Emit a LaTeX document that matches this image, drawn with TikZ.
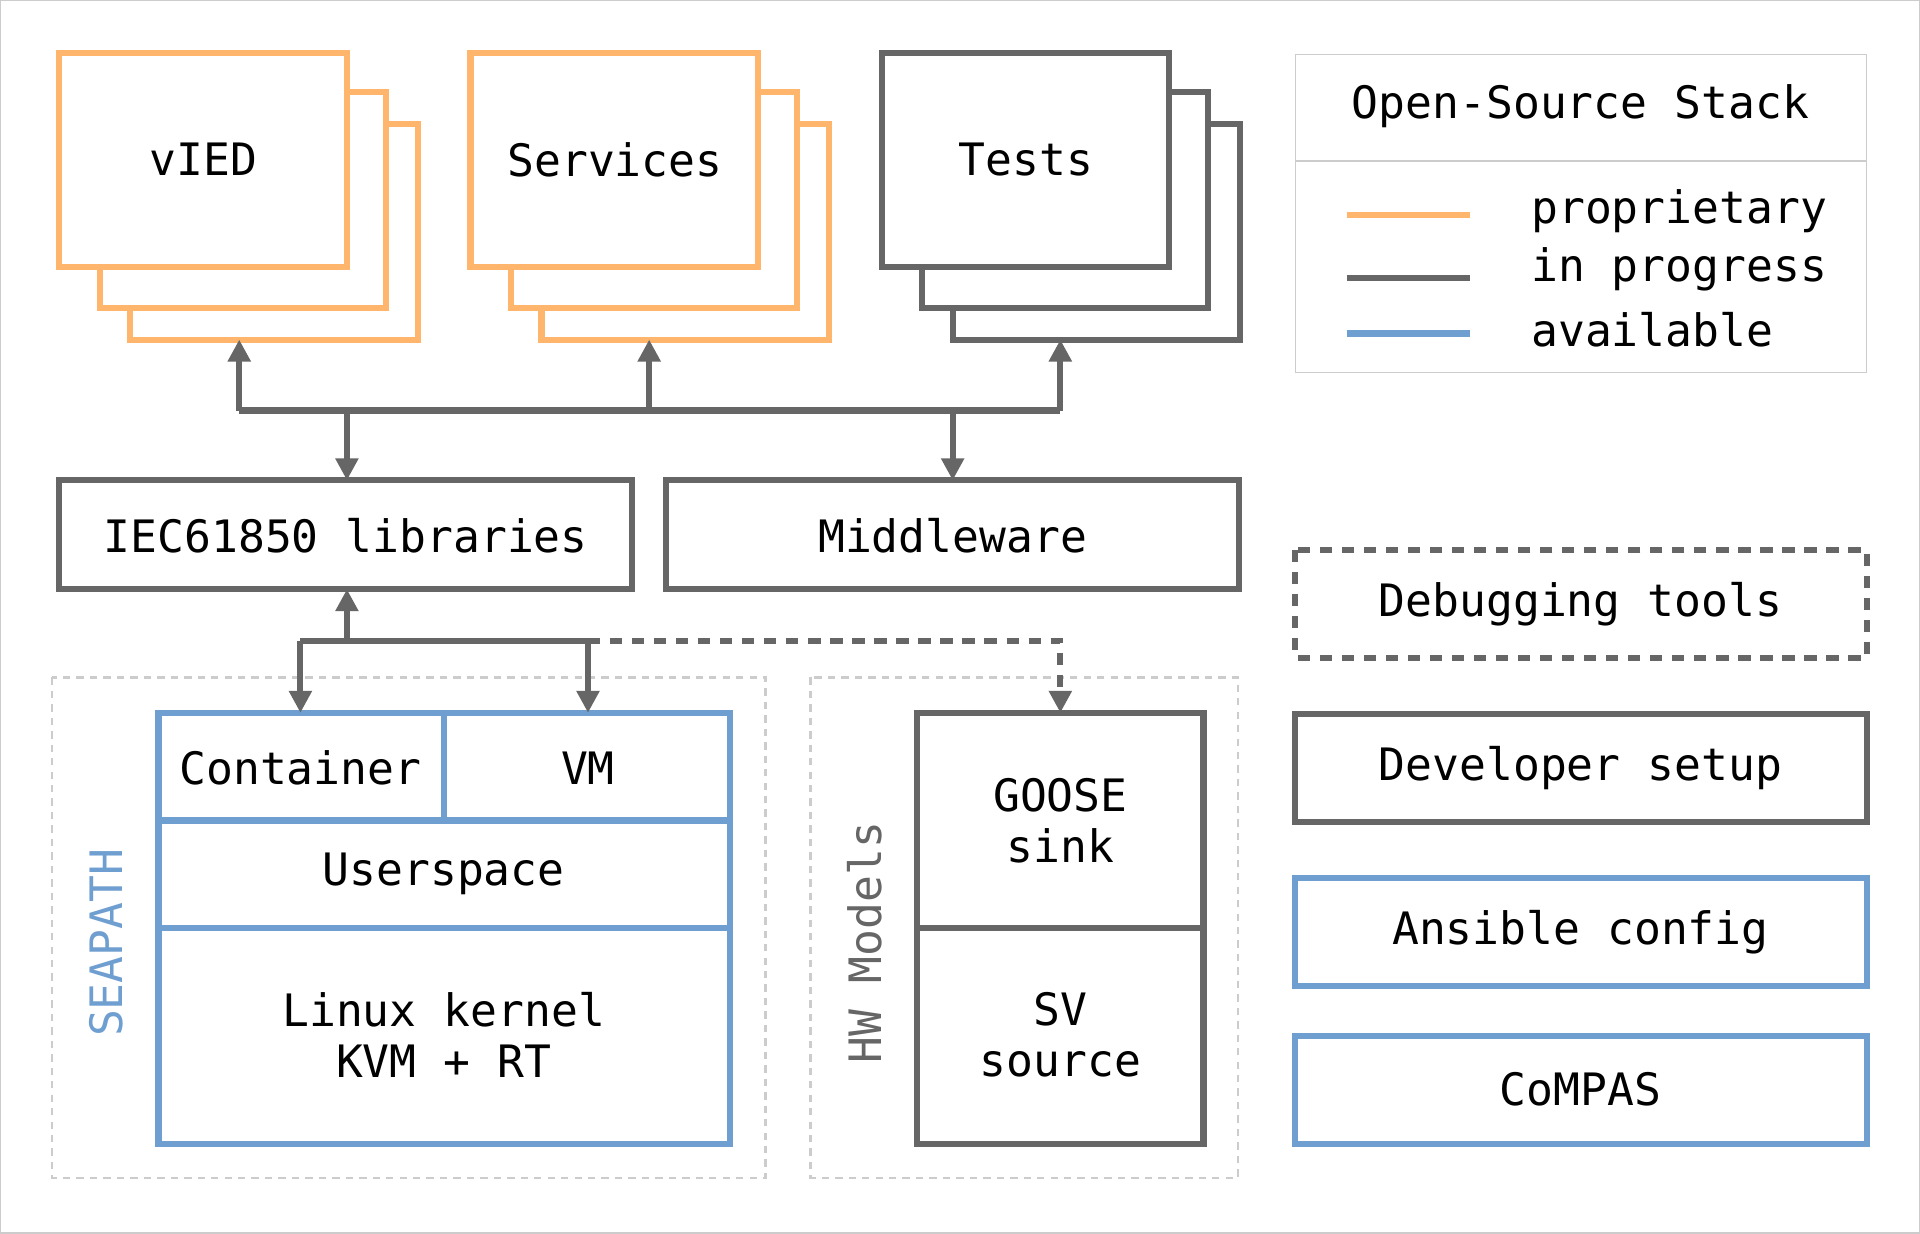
\documentclass[tikz,border=0pt]{standalone}
\usepackage{fontspec}
\setmainfont{DejaVu Sans Mono}
\usetikzlibrary{arrows.meta}
\definecolor{org}{HTML}{FFB56B}
\definecolor{gry}{HTML}{666666}
\definecolor{blu}{HTML}{6F9FD0}
\definecolor{lgr}{HTML}{CCCCCC}
\begin{document}
\begin{tikzpicture}[x=1pt,y=-1pt,line width=5pt,
  txt/.style={font=\fontsize{36.5}{42}\selectfont,align=center},
  box/.style={draw,fill=white},
  arr/.style={gry,-{Triangle[length=18pt,width=18pt]}},
  grp/.style={draw=lgr,line width=2pt,dash pattern=on 6pt off 5pt}]
\draw[lgr,line width=1pt,fill=white] (0,0) rectangle (1568,1007);
\useasboundingbox (0,0) rectangle (1568,1007);
% stacks
\foreach \dx/\c/\t/\n in {0/org/vIED/a,336/org/Services/b,672/gry/Tests/c}{
  \draw[box,draw=\c] (106+\dx,101) rectangle (341+\dx,277);
  \draw[box,draw=\c] (81+\dx,75) rectangle (315+\dx,251);
  \draw[box,draw=\c] (48+\dx,43) rectangle (283+\dx,218);
  \node[txt] (\n) at (166+\dx,130) {\t};
}
% legend
\draw[lgr,line width=1pt] (1058,44) rectangle (1525,304);
\draw[lgr,line width=1pt] (1058,131) -- (1525,131);
\node[txt] (lt) at (1291,86) {Open-Source Stack};
\coordinate (l1) at (1100,175); \coordinate (l1e) at (1201,175);
\coordinate (l2) at (1100,227); \coordinate (l2e) at (1201,227);
\coordinate (l3) at (1100,272); \coordinate (l3e) at (1201,272);
\draw[org] (l1) -- (l1e); \draw[gry] (l2) -- (l2e); \draw[blu] (l3) -- (l3e);
\node[txt,anchor=west] (p1) at (1245,172) {proprietary};
\node[txt,anchor=west] (p2) at (1245,220) {in progress};
\node[txt,anchor=west] (p3) at (1245,269) {available};
% middle boxes
\draw[gry] (48,392) rectangle (516,481); \node[txt] (iec) at (282,437) {IEC61850 libraries};
\draw[gry] (544,392) rectangle (1012,481); \node[txt] (mw) at (778,437) {Middleware};
\draw[gry,dash pattern=on 10pt off 8pt] (1058,449) rectangle (1525,537); \node[txt] (dbg) at (1291,493) {Debugging tools};
\draw[gry] (1058,583) rectangle (1525,671); \node[txt] (dev) at (1291,627) {Developer setup};
\draw[blu] (1058,717) rectangle (1525,805); \node[txt] (ans) at (1291,761) {Ansible config};
\draw[blu] (1058,846) rectangle (1525,934); \node[txt] (cmp) at (1291,890) {CoMPAS};
% upper bus
\coordinate (u0) at (195,335); \coordinate (u1) at (530,335); \coordinate (u2) at (866,335);
\coordinate (d0) at (283,335); \coordinate (d1) at (778,335);
\draw[gry] (u0) -- (u2);
\draw[arr] (u0) -- (195,277);
\draw[arr] (u1) -- (530,277);
\draw[arr] (u2) -- (866,277);
\draw[arr] (d0) -- (283,392);
\draw[arr] (d1) -- (778,392);
% groups
\draw[grp] (42,553) rectangle (625,962);
\draw[grp] (662,553) rectangle (1011,962);
\node[txt,blu,rotate=90] (sp) at (86,770) {SEAPATH};
\node[txt,gry,rotate=90] (hw) at (706,770) {HW Models};
% seapath stack
\draw[blu] (129,582) rectangle (596,934);
\draw[blu] (362,582) -- (362,670);
\draw[blu] (129,670) -- (596,670);
\draw[blu] (129,758) -- (596,758);
\node[txt] (cont) at (245,627) {Container};
\node[txt] (vm) at (480,627) {VM};
\node[txt] (us) at (362,714) {Userspace};
\node[txt] (lk) at (362,845) {Linux kernel\\KVM + RT};
% hw stack
\draw[gry] (749,582) rectangle (983,934);
\draw[gry] (749,758) -- (983,758);
\node[txt] (gs) at (866,670) {GOOSE\\sink};
\node[txt] (sv) at (866,845) {SV\\source};
% lower bus
\coordinate (b0) at (245,523); \coordinate (bm) at (283,523); \coordinate (b1) at (480,523); \coordinate (b2) at (866,523);
\draw[gry] (b0) -- (b1);
\draw[arr] (bm) -- (283,481);
\draw[arr] (b0) -- (245,582);
\draw[arr] (b1) -- (480,582);
\draw[arr,dash pattern=on 10pt off 8pt] (b1) -- (b2) -- (866,582);
\end{tikzpicture}
\end{document}
